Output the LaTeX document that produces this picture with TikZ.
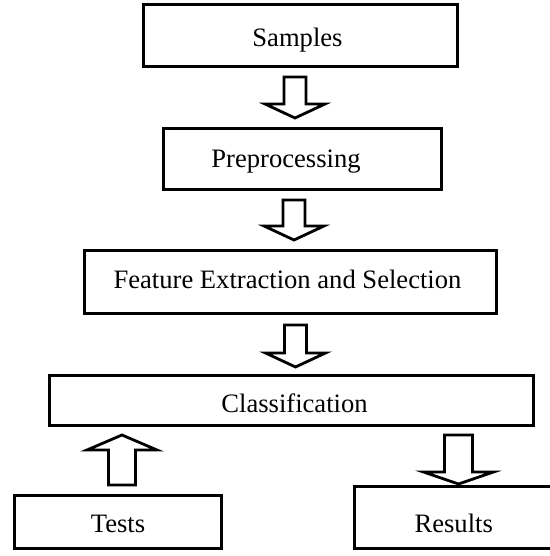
\documentclass[tikz,border=0pt]{standalone}
\usepackage{fontspec}
\setmainfont{Liberation Serif}
\usetikzlibrary{calc}
\tikzset{box/.style={rectangle,draw=black,line width=1.5pt,inner sep=0pt,text height=10pt,text depth=0pt,font=\fontsize{13.3}{15}\selectfont}}
\tikzset{blockarrow/.style={draw=black,fill=white,line width=1.4pt}}
% move a label sideways inside its box
\newcommand{\offtext}[2]{\kern#1#2\kern-#1}
% hollow block arrow: from, to, shaft half width, head half width, head length
\newcommand{\blockarrow}[5]{%
  \coordinate (hb) at ($(#2)!#5!(#1)$);
  \draw[blockarrow] ($(#1)!#3!90:(#2)$) -- ($(hb)!#3!90:(#2)$) -- ($(hb)!#4!90:(#2)$) -- (#2)
    -- ($(hb)!#4!-90:(#2)$) -- ($(hb)!#3!-90:(#2)$) -- ($(#1)!#3!-90:(#2)$) -- cycle;}

\begin{document}
\begin{tikzpicture}[x=0.5pt,y=-0.5pt]
\useasboundingbox (0,0) rectangle (550,556);
% \draw[help lines] (0,0) grid[step=50] (550,556);
\node (samples) [box,minimum width=157pt,minimum height=31pt,text height=11.5pt] at (300.5,35.5) {\offtext{-1.5pt}{Samples}};
\node (prep) [box,minimum width=139pt,minimum height=30.5pt,text height=8pt] at (302.5,159) {\offtext{-8.25pt}{Preprocessing}};
\node (feature) [box,minimum width=206pt,minimum height=31.5pt,text height=6pt] at (290.5,282) {\offtext{-1.5pt}{Feature Extraction and Selection}};
\node (classif) [box,minimum width=242pt,minimum height=25pt,text height=11.5pt] at (291.5,400.5) {\offtext{1.5pt}{Classification}};
\node (tests) [box,minimum width=103.5pt,minimum height=26.5pt] at (118,522) {Tests};
\node (results) [box,minimum width=99.25pt,minimum height=31pt,text height=14.5pt] at (453.75,517.5) {Results};
%
\path ([shift={(-5.5,9)}]samples.south) coordinate (a1s);
\path (a1s |- prep.north) ++(0,-9) coordinate (a1e);
\path ([shift={(-8.5,9)}]prep.south) coordinate (a2s);
\path (a2s |- feature.north) ++(0,-9) coordinate (a2e);
\path ([shift={(5,10)}]feature.south) coordinate (a3s);
\path (a3s |- classif.north) ++(0,-7) coordinate (a3e);
\path ([shift={(4,-9)}]tests.north) coordinate (a4s);
\path (a4s |- classif.south) ++(0,8) coordinate (a4e);
\path ([shift={(-76.5,8)}]classif.south east) coordinate (a5s);
\path (a5s |- results.north) ++(0,-1) coordinate (a5e);
%
\blockarrow{a1s}{a1e}{5.5pt}{15pt}{7pt}
\blockarrow{a2s}{a2e}{5.5pt}{15pt}{7pt}
\blockarrow{a3s}{a3e}{5.5pt}{15pt}{7pt}
\blockarrow{a4s}{a4e}{6.75pt}{17.5pt}{7.5pt}
\blockarrow{a5s}{a5e}{7pt}{17.5pt}{6pt}
\end{tikzpicture}
\end{document}
